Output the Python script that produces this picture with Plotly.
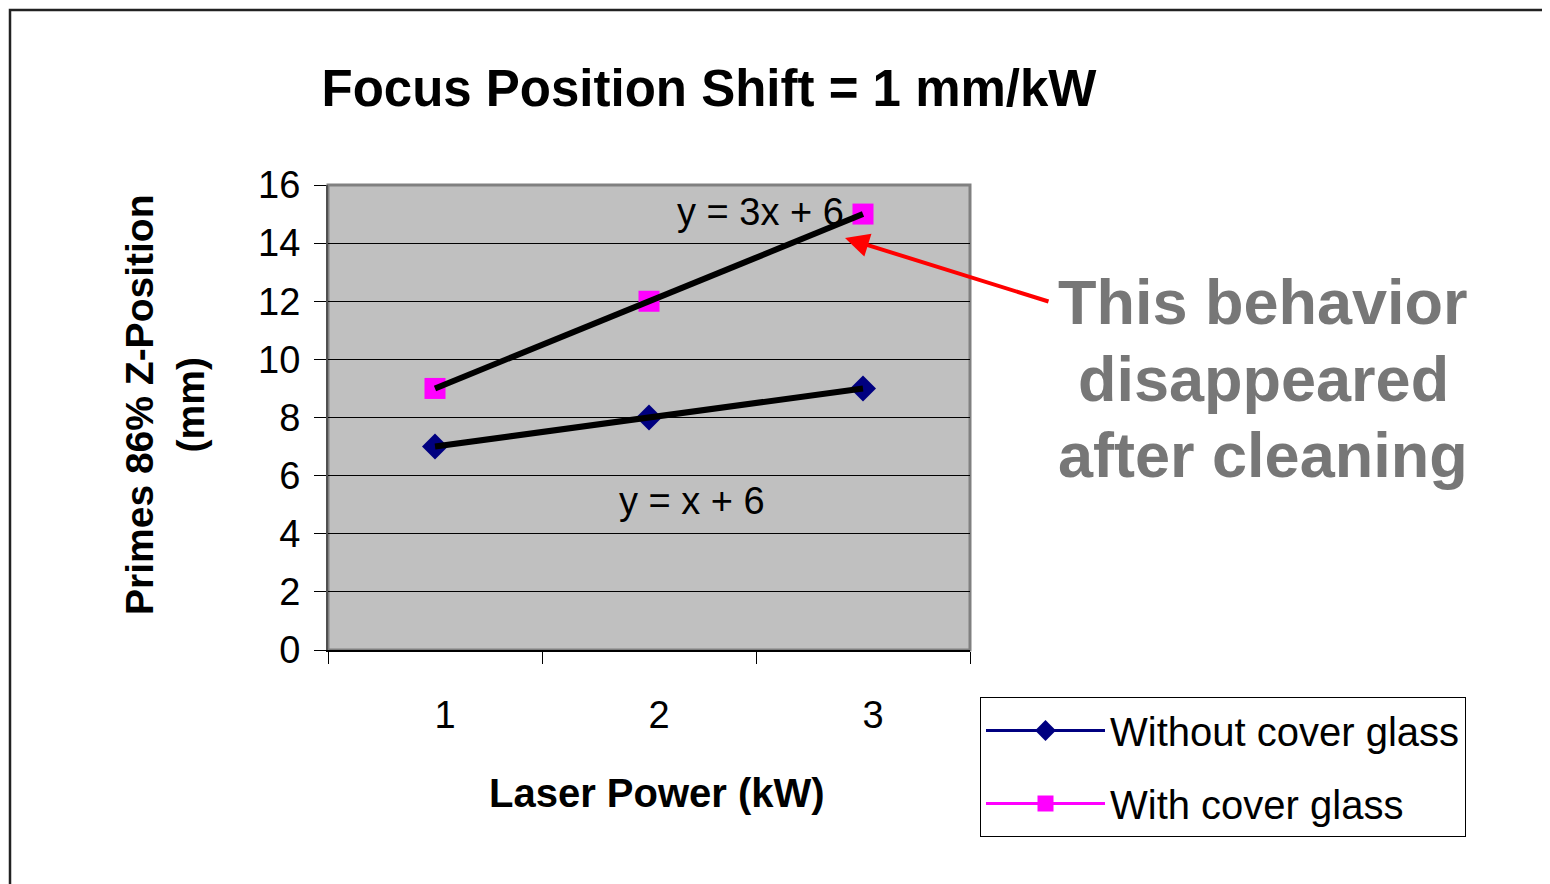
import numpy as np
import plotly.graph_objects as go

# ---- data ----
power_kw = [1, 2, 3]
without_cover = [7, 8, 9]
with_cover = [9, 12, 15]
x_tick_labels = ["1", "2", "3"]
y_ticks = [0, 2, 4, 6, 8, 10, 12, 14, 16]

OFF = 8  # page body margin of the html page
W, H = 1550 - OFF, 884 - OFF
# plot area in page px
PL, PR, PT, PB = 328, 970, 185, 650
L, R, T, B = PL - OFF, PR - OFF, PT - OFF, PB - OFF


def px(x):
    """page x pixel -> paper x"""
    return (x - PL) / (PR - PL)


def py(y):
    """page y pixel -> paper y"""
    return (PB - y) / (PB - PT)


FONT = "Liberation Sans, Arial, sans-serif"


def fit(xs, ys):
    m, b = np.polyfit(xs, ys, 1)
    return float(m), float(b)


def eq_text(m, b):
    m = round(m, 4)
    b = round(b, 4)
    mt = "x" if m == 1 else f"{m:g}x"
    return f"y = {mt} + {b:g}"


fig = go.Figure()

fig.add_trace(go.Scatter(
    x=power_kw, y=without_cover, mode="lines+markers", name="Without cover glass",
    line=dict(color="#000080", width=3),
    marker=dict(symbol="diamond", size=20, color="#000080"),
    legendgroup="a",
))
fig.add_trace(go.Scatter(
    x=power_kw, y=with_cover, mode="lines+markers", name="With cover glass",
    line=dict(color="#FF00FF", width=3),
    marker=dict(symbol="square", size=21, color="#FF00FF"),
    legendgroup="b",
))

fits = []
for ys in (without_cover, with_cover):
    m, b = fit(power_kw, ys)
    fits.append((m, b))
    xs = np.array([min(power_kw), max(power_kw)], dtype=float)
    fig.add_trace(go.Scatter(
        x=xs, y=m * xs + b, mode="lines", showlegend=False,
        line=dict(color="black", width=6), hoverinfo="skip",
    ))

annotations = [
    dict(text=eq_text(*fits[1]), x=2.52, y=15.07, xref="x", yref="y",
         showarrow=False, font=dict(size=38, color="black", family=FONT)),
    dict(text=eq_text(*fits[0]), x=2.20, y=5.13, xref="x", yref="y",
         showarrow=False, font=dict(size=38, color="black", family=FONT)),
    # axis titles
    dict(text="<b>Primes 86% Z-Position<br>(mm)</b>", x=px(165), y=py(405),
         xref="paper", yref="paper", textangle=-90, showarrow=False,
         xanchor="center", yanchor="middle",
         font=dict(size=39, color="black", family=FONT)),
    dict(text="<b>Laser Power (kW)</b>", x=px(657), y=py(793),
         xref="paper", yref="paper", showarrow=False,
         xanchor="center", yanchor="middle",
         font=dict(size=40, color="black", family=FONT)),
    # arrow
    dict(text="", x=px(845), y=py(238), xref="paper", yref="paper",
         showarrow=True, ax=205, ay=64, axref="pixel", ayref="pixel",
         arrowhead=2, arrowsize=1.2, arrowwidth=4, arrowcolor="#FF0000"),
]
for txt, yc in (("This behavior", 302), ("disappeared", 379), ("after cleaning", 455)):
    annotations.append(dict(
        text=f"<b>{txt}</b>", x=px(1263), y=py(yc), xref="paper", yref="paper",
        showarrow=False, xanchor="center", yanchor="middle",
        font=dict(size=63, color="#777777", family=FONT)))

shapes = [
    # outer frame
    dict(type="rect", xref="paper", yref="paper", x0=px(10), x1=px(1562),
         y0=py(896), y1=py(10), line=dict(color="#222222", width=2.5),
         fillcolor="rgba(0,0,0,0)", layer="below"),
    # plot area border
    dict(type="rect", xref="paper", yref="paper", x0=0, x1=1, y0=0, y1=1,
         line=dict(color="#808080", width=3), fillcolor="rgba(0,0,0,0)",
         layer="below"),
]

fig.update_layout(
    width=W, height=H,
    margin=dict(l=L, r=W - R, t=T, b=H - B, pad=0),
    paper_bgcolor="white", plot_bgcolor="#C0C0C0",
    font=dict(family=FONT, color="black"),
    title=dict(text="<b>Focus Position Shift = 1 mm/kW</b>", x=px(709), xref="paper",
               xanchor="center", y=1 - (88 - OFF) / H, yref="container",
               yanchor="middle",
               font=dict(size=51, color="black", family=FONT)),
    xaxis=dict(range=[0.5, 3.5], tickvals=power_kw, ticktext=x_tick_labels,
               ticks="", showgrid=False, zeroline=False,
               showline=True, linecolor="black", linewidth=2,
               tickfont=dict(size=38, color="black", family=FONT),
               ticklabelshift=10, ticklabelstandoff=30,
               minor=dict(tickvals=[0.5, 1.5, 2.5, 3.5], ticks="outside", ticklen=12,
                          tickcolor="black", tickwidth=1, showgrid=False),
               fixedrange=True),
    yaxis=dict(range=[0, 16], tickvals=y_ticks, ticks="outside", ticklen=12,
               tickcolor="black", tickwidth=1,
               showgrid=True, gridcolor="black", gridwidth=1, zeroline=False,
               showline=True, linecolor="#505050", linewidth=2,
               tickfont=dict(size=38, color="black", family=FONT),
               ticklabelstandoff=6, fixedrange=True),
    legend=dict(x=px(980), y=py(697), xanchor="left", yanchor="top",
                bgcolor="white", bordercolor="black", borderwidth=1,
                font=dict(size=40, color="black", family=FONT),
                itemwidth=119, tracegroupgap=18, traceorder="grouped"),
    annotations=annotations,
    shapes=shapes,
    showlegend=True,
)

fig.write_html("out.html")
